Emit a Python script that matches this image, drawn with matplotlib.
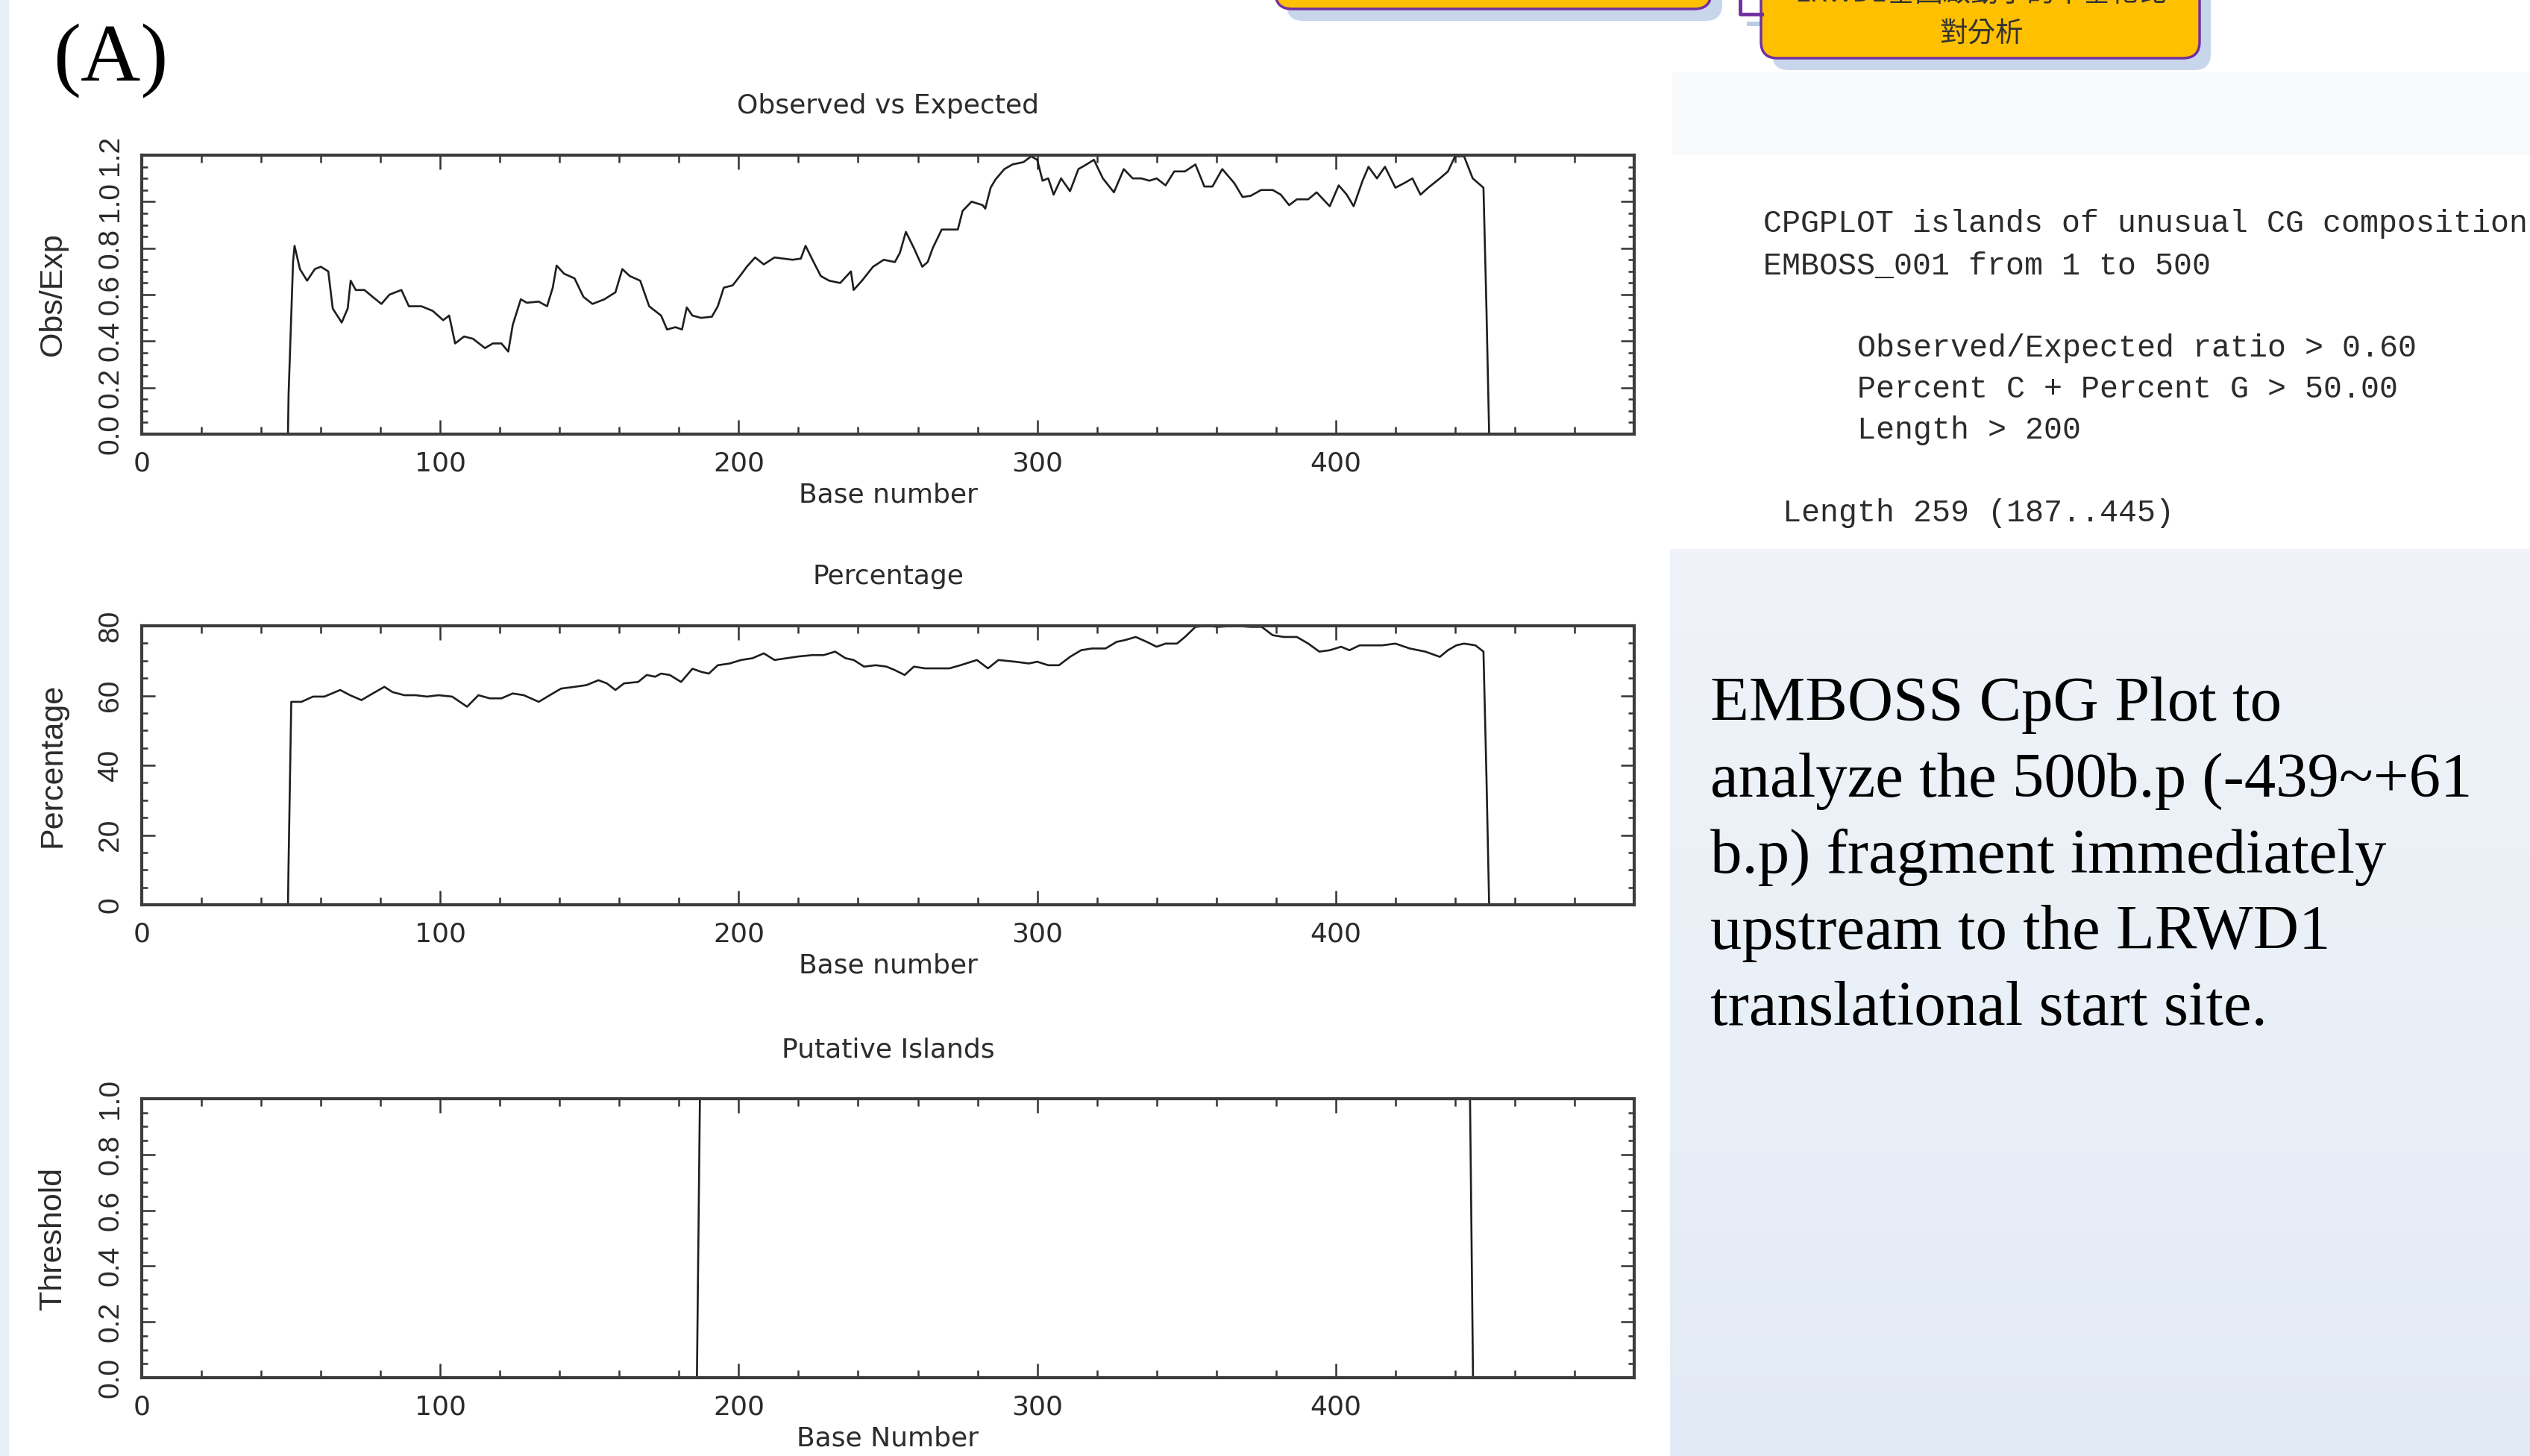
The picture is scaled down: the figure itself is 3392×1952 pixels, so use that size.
import matplotlib
matplotlib.use("Agg")
import numpy as np
import matplotlib.pyplot as plt
from matplotlib.patches import Rectangle, FancyBboxPatch
from matplotlib.colors import LinearSegmentedColormap
from matplotlib.ticker import MultipleLocator, AutoMinorLocator

W, H = 3392, 1952

obs_base = [1, 49, 49.2, 50.7, 51.2, 53, 55.4, 58, 60, 62.5, 64, 67, 69, 70, 71.7, 74.6, 77.4, 80.3, 83, 87,
            89.5, 93.7, 97.5, 101, 103, 105, 108, 111, 115, 117.6, 120.5, 122.8, 124.3, 127, 129, 133, 135.8,
            137.7, 139, 141.5, 145, 148, 151, 155, 158.7, 161, 163.5, 167, 170, 174, 176, 178.8, 181, 182.6,
            184.5, 187.4, 191, 193, 195, 198, 201, 202.7, 205.5, 208.4, 212, 215, 218, 220.8, 222.4, 224.7,
            227.5, 230.3, 234, 237.6, 238.5, 241.3, 245, 248.6, 252.3, 254, 256, 258.7, 261.5, 263.3, 265,
            268, 270.6, 273.4, 275, 278, 281.7, 282.6, 284.4, 286, 289, 291.7, 295.4, 298, 300, 301.8, 303.7,
            305.5, 308, 311, 313.8, 316.5, 319, 322, 325.7, 329, 332, 334.9, 337.6, 340, 343, 345.9, 349.5,
            353, 356, 358.7, 362, 366, 368.8, 371.5, 375, 378.9, 381.6, 384.4, 387, 390.8, 393.6, 398, 401,
            403.7, 406, 409, 411, 413.8, 416.5, 420, 423, 425.7, 428.4, 431, 434.9, 437.6, 440, 443, 445.9,
            449.5, 450.5, 451.4, 500]
obs_ratio = [0, 0, 0.17, 0.74, 0.81, 0.71, 0.66, 0.71, 0.72, 0.70, 0.54, 0.48, 0.54, 0.66, 0.62, 0.62, 0.59, 0.56,
             0.60, 0.62, 0.55, 0.55, 0.53, 0.49, 0.51, 0.39, 0.42, 0.41, 0.37, 0.39, 0.39, 0.355, 0.47, 0.58,
             0.565, 0.57, 0.55, 0.63, 0.725, 0.69, 0.67, 0.59, 0.56, 0.58, 0.61, 0.71, 0.68, 0.66, 0.55, 0.51,
             0.45, 0.46, 0.45, 0.545, 0.51, 0.50, 0.505, 0.55, 0.63, 0.64, 0.69, 0.72, 0.76, 0.73, 0.76, 0.755,
             0.75, 0.755, 0.81, 0.75, 0.68, 0.66, 0.65, 0.70, 0.62, 0.66, 0.72, 0.75, 0.74, 0.78, 0.87, 0.80,
             0.72, 0.74, 0.80, 0.88, 0.88, 0.88, 0.96, 1.00, 0.985, 0.97, 1.06, 1.095, 1.14, 1.16, 1.17, 1.195,
             1.18, 1.09, 1.10, 1.03, 1.10, 1.045, 1.14, 1.16, 1.18, 1.10, 1.04, 1.14, 1.10, 1.10, 1.09, 1.10,
             1.07, 1.13, 1.13, 1.16, 1.065, 1.065, 1.14, 1.08, 1.02, 1.025, 1.05, 1.05, 1.03, 0.985, 1.01, 1.01,
             1.04, 0.98, 1.07, 1.03, 0.98, 1.09, 1.15, 1.10, 1.15, 1.06, 1.08, 1.10, 1.03, 1.06, 1.10, 1.13,
             1.195, 1.195, 1.10, 1.06, 0.54, 0, 0]

pct_base = [1, 49, 49.2, 50.1, 53.5, 57.4, 61.2, 66.5, 69.8, 73.6, 77.4, 81.3, 84, 88, 91.8, 95.6, 99.4, 104, 109,
            112.8, 116.6, 120.5, 124.3, 128, 133, 136.7, 140.5, 145, 149, 153, 155.8, 158.7, 161.6, 166.3, 169.2,
            172, 174, 176.9, 180.7, 184.5, 187.4, 190, 193, 197, 200.8, 204.6, 208.4, 212, 216, 219.9, 224.7,
            228.5, 232.3, 235.8, 238.5, 242, 245.9, 249.5, 252.3, 255.6, 258.7, 262.4, 266, 270.6, 274.3, 279.8,
            283.5, 287, 292.7, 297.2, 300, 303.7, 307.3, 311, 314.7, 318.3, 322.9, 326.6, 329.4, 333, 336.7, 340,
            343, 346.8, 349.5, 353, 356.9, 360.6, 366, 371.6, 375.2, 378.9, 382.6, 387, 390.8, 394.5, 398, 401.8,
            404.6, 408, 412, 415.6, 420, 424.8, 430, 434.9, 437.6, 440.4, 443, 446.8, 449.5, 450.5, 451.4, 500]
pct_gc = [0, 0, 12, 58.2, 58.2, 59.7, 59.7, 61.6, 60.1, 58.7, 60.6, 62.5, 61, 60.1, 60.1, 59.7, 60.1, 59.7, 56.8,
          60.1, 59.2, 59.2, 60.6, 60.1, 58.2, 60.1, 62, 62.5, 63, 64.4, 63.5, 61.6, 63.5, 63.9, 65.9, 65.4, 66.3,
          65.9, 63.9, 67.7, 66.8, 66.3, 68.7, 69.2, 70.2, 70.7, 72.1, 70.2, 70.7, 71.2, 71.6, 71.6, 72.6, 70.7,
          70.2, 68.3, 68.7, 68.3, 67.3, 65.9, 68.3, 67.8, 67.8, 67.8, 68.7, 70.2, 67.8, 70.2, 69.7, 69.2, 69.7,
          68.7, 68.7, 71.1, 73, 73.5, 73.5, 75.4, 75.9, 76.8, 75.4, 74, 74.9, 74.9, 76.8, 79.7, 80, 79.7, 80,
          79.7, 79.7, 77.3, 76.8, 76.8, 74.9, 72.6, 73, 74, 73, 74.4, 74.4, 74.4, 74.9, 73.5, 72.6, 71.1, 73,
          74.4, 74.9, 74.4, 72.6, 36.8, 0, 0]

island_base = [1, 186, 187, 445, 446, 500]
island_flag = [0, 0, 1, 1, 0, 0]

base_ticks = [0, 100, 200, 300, 400]

report_lines = ["CPGPLOT islands of unusual CG composition",
                "EMBOSS_001 from 1 to 500"]
criteria_lines = ["Observed/Expected ratio > 0.60",
                  "Percent C + Percent G > 50.00",
                  "Length > 200"]
island_line = "Length 259 (187..445)"
caption_lines = ["EMBOSS CpG Plot to",
                 "analyze the 500b.p (-439~+61",
                 "b.p) fragment immediately",
                 "upstream to the LRWD1",
                 "translational start site."]

INK = "#2b2b2b"


def frac_box(left, top, right, bottom):
    return [left / W, 1 - bottom / H, (right - left) / W, (bottom - top) / H]


def cpg_panel(ax, x, y, title, ylabel, xlabel, ymax, yticks, ylabels):
    ax.plot(x, y, color="#1e1e1e", lw=1.9)
    ax.set_xlim(0, 500)
    ax.set_ylim(0, ymax)

    ax.set_xticks(base_ticks)
    ax.set_xticklabels([str(t) for t in base_ticks], fontsize=26, color=INK)
    ax.xaxis.set_minor_locator(MultipleLocator(20))
    ax.set_yticks(yticks)
    ax.set_yticklabels(ylabels, rotation=90, family="Liberation Sans", fontsize=28, color=INK)
    for lbl in ax.get_yticklabels():
        lbl.set_va("center")
    ax.yaxis.set_minor_locator(AutoMinorLocator(4))

    ax.tick_params(which="both", direction="in", top=True, right=True, color="#333333", width=1.8)
    ax.tick_params(axis="x", which="major", length=14, pad=16)
    ax.tick_params(axis="x", which="minor", length=7)
    ax.tick_params(axis="y", which="major", length=13, pad=17)
    ax.tick_params(axis="y", which="minor", length=6)

    for sp in ax.spines.values():
        sp.set_linewidth(3)
        sp.set_color("#3c3c3c")

    ax.set_title(title, fontsize=26, color=INK, y=1.153, va="center")
    ax.set_xlabel(xlabel, fontsize=26, color=INK)
    ax.xaxis.set_label_coords(0.5, -0.218)
    ax.xaxis.label.set_va("center")
    ax.set_ylabel(ylabel, family="Liberation Sans", fontsize=31, color=INK)
    ax.yaxis.set_label_coords(-0.0595, 0.5)
    ax.yaxis.label.set_va("center")


fig = plt.figure(figsize=(W / 100, H / 100), dpi=100)

# slide background, drawn in pixel coordinates
bg = fig.add_axes([0, 0, 1, 1], zorder=-1)
bg.set_xlim(0, W)
bg.set_ylim(H, 0)
bg.axis("off")

bg.add_patch(Rectangle((0, 0), 12, H, color="#e8eef6", lw=0))
bg.add_patch(Rectangle((2242, 97), W - 2242, 111, color="#f8f9fb", lw=0))
sky = LinearSegmentedColormap.from_list("sky", ["#f0f3f9", "#eaf0f7", "#e2eaf5"])
bg.imshow(np.linspace(0, 1, 200).reshape(-1, 1), cmap=sky, aspect="auto",
          extent=(2239, W, H, 736), zorder=0)

# flow-chart boxes cut off at the top of the slide
for left, right, bottom in [(1710, 2294, 12), (2361, 2949, 78)]:
    bg.add_patch(FancyBboxPatch((left + 15, -150), right - left, bottom + 166,
                                boxstyle="round,pad=0,rounding_size=22",
                                fc="#c8d6ec", ec="none", zorder=1))
    bg.add_patch(FancyBboxPatch((left, -150), right - left, bottom + 150,
                                boxstyle="round,pad=0,rounding_size=22",
                                fc="#ffc000", ec="#7030a0", lw=2.5, zorder=2))
bg.plot([2333, 2333, 2362], [0, 19, 19], color="#7030a0", lw=3.5, zorder=3)
bg.add_patch(Rectangle((2342, 29), 33, 6, color="#b9cbe6", lw=0, zorder=1))
bg.text(2656, -8, "LRWD1基因啟動子的甲基化比", family="Noto Sans CJK TC", fontsize=27,
        color="#333333", ha="center", va="center", zorder=4)
bg.text(2656, 45, "對分析", family="Noto Sans CJK TC", fontsize=27,
        color="#333333", ha="center", va="center", zorder=4)

bg.text(71, 82, "(A)", family="Liberation Serif", fontsize=80, color="black",
        ha="left", va="center")

# cpgplot text report
for i, line in enumerate(report_lines):
    bg.text(2364, 300 + i * 57, line, family="Liberation Mono", fontsize=30,
            color=INK, va="center")
for i, line in enumerate(criteria_lines):
    bg.text(2490, 467 + i * 55, line, family="Liberation Mono", fontsize=30,
            color=INK, va="center")
bg.text(2390, 688, island_line, family="Liberation Mono", fontsize=30, color=INK, va="center")

for i, line in enumerate(caption_lines):
    bg.text(2293, 966 + i * 102, line, family="Liberation Serif", fontsize=61,
            color="black", va="baseline", zorder=2)

# the three cpgplot panels
ax1 = fig.add_axes(frac_box(190, 208, 2191, 582))
ax2 = fig.add_axes(frac_box(190, 839, 2191, 1213))
ax3 = fig.add_axes(frac_box(190, 1473, 2191, 1847))

cpg_panel(ax1, obs_base, obs_ratio, "Observed vs Expected", "Obs/Exp", "Base number", 1.2,
          [0.0, 0.2, 0.4, 0.6, 0.8, 1.0, 1.2], ["0.0", "0.2", "0.4", "0.6", "0.8", "1.0", "1.2"])
cpg_panel(ax2, pct_base, pct_gc, "Percentage", "Percentage", "Base number", 80,
          [0, 20, 40, 60, 80], ["0", "20", "40", "60", "80"])
cpg_panel(ax3, island_base, island_flag, "Putative Islands", "Threshold", "Base Number", 1.0,
          [0.0, 0.2, 0.4, 0.6, 0.8, 1.0], ["0.0", "0.2", "0.4", "0.6", "0.8", "1.0"])

fig.savefig("out.png", dpi=100)
